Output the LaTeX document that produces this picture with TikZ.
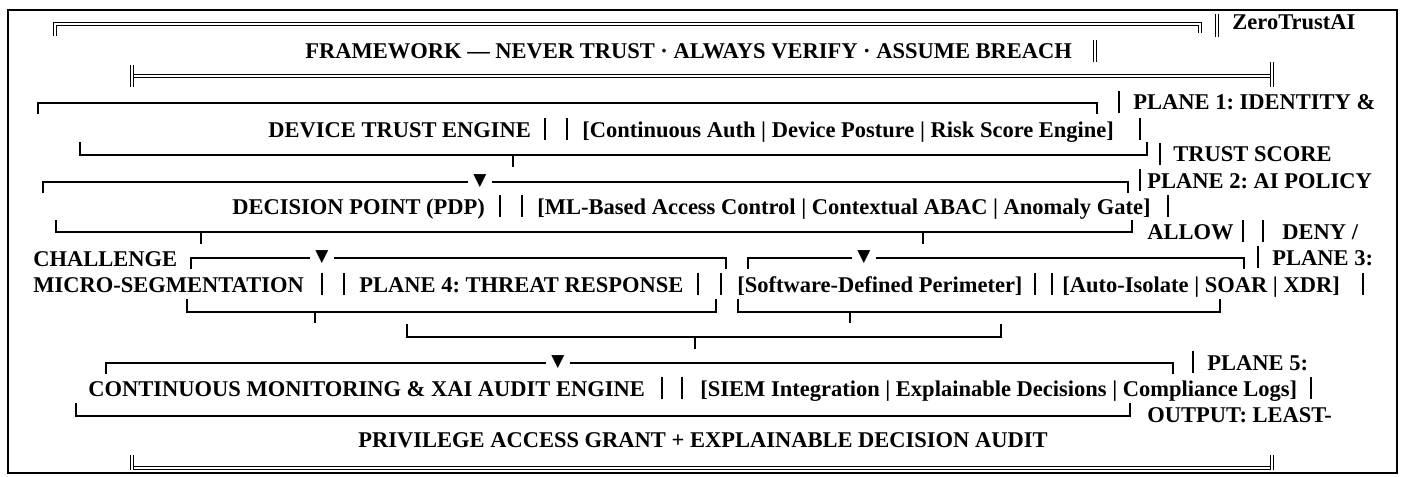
\documentclass[tikz,border=0pt]{standalone}
\usepackage{fontspec}
\setmainfont{Liberation Serif}
\newfontfamily\symfont{DejaVu Sans}
\frenchspacing

\begin{document}
\begin{tikzpicture}[
  x=0.5pt, y=-0.5pt,
  lbl/.style={font=\bfseries\fontsize{11.25}{13}\selectfont, inner sep=0pt, anchor=base west},
  rule/.style={line width=0.85pt},
  dbl/.style={line width=0.65pt, double, double distance=1pt},
  tip/.style={font=\symfont\fontsize{8.5}{8.5}\selectfont, fill=white, inner xsep=2.5pt, inner ysep=0pt}
]
\useasboundingbox (0,0) rectangle (1401,476);
\draw[line width=1.15pt] (8,10) rectangle (1397,473);

% title band
\draw[dbl] (55,36) -- (55,24) -- (1200,24) -- (1200,33);
\draw[dbl] (1217,14) -- (1217,37);
\node[lbl] (title) at (1232,30) {ZeroTrustAI};
\node[lbl] (motto) at (305,59) {FRAMEWORK — NEVER TRUST · ALWAYS VERIFY · ASSUME BREACH};
\draw[dbl] (1095,40) -- (1095,62);
\draw[dbl] (132,76) -- (1272,76);
\draw[dbl] (132,65) -- (132,87);
\draw[dbl] (1272,62) -- (1272,87);

% plane 1
\draw[rule] (38,114) -- (38,103) -- (1097,103) -- (1097,114);
\node[lbl] (p1) at (1133,110) {PLANE 1: IDENTITY \&};
\node[lbl] (idn) at (268,137) {DEVICE TRUST ENGINE};
\node[lbl] (idnparts) at (582,137) {[Continuous Auth | Device Posture | Risk Score Engine]};
\draw[rule] (80,142) -- (80,155) -- (1147,155) -- (1147,142);
\draw[rule] (513,155) -- (513,167);
\node[lbl] (score) at (1173,162) {TRUST SCORE};

% plane 2
\draw[rule] (43,193) -- (43,182) -- (1128,182) -- (1128,193);
\node[tip] (v1) at (480,181) {▼};
\node[lbl] (p2) at (1147,188) {PLANE 2: AI POLICY};
\node[lbl] (pdp) at (232,214) {DECISION POINT (PDP)};
\node[lbl] (pdpparts) at (537,214) {[ML-Based Access Control | Contextual ABAC | Anomaly Gate]};
\draw[rule] (56,220) -- (56,232) -- (1132,232) -- (1132,220);
\draw[rule] (201,232) -- (201,244);
\draw[rule] (923,232) -- (923,244);
\node[lbl] (allow) at (1147,239) {ALLOW};
\node[lbl] (deny) at (1282,239) {DENY /};

% planes 3 and 4
\node[lbl] (chal) at (33,266) {CHALLENGE};
\draw[rule] (191,269) -- (191,258) -- (726,258) -- (726,269);
\node[tip] (v2) at (322,257) {▼};
\draw[rule] (748,269) -- (748,258) -- (1244,258) -- (1244,269);
\node[tip] (v3) at (864,257) {▼};
\node[lbl] (p3) at (1272,265) {PLANE 3:};
\node[lbl] (micro) at (33,292) {MICRO-SEGMENTATION};
\node[lbl] (p4) at (359,292) {PLANE 4: THREAT RESPONSE};
\node[lbl] (sdp) at (737,292) {[Software-Defined Perimeter]};
\node[lbl] (soar) at (1062,292) {[Auto-Isolate | SOAR | XDR]};
\draw[rule] (187,299) -- (187,312) -- (716,312) -- (716,299);
\draw[rule] (315,312) -- (315,323);
\draw[rule] (738,299) -- (738,312) -- (1220,312) -- (1220,299);
\draw[rule] (850,312) -- (850,323);
\draw[rule] (407,324) -- (407,337) -- (1001,337) -- (1001,324);
\draw[rule] (695,337) -- (695,349);

% plane 5
\draw[rule] (106,374) -- (106,363) -- (1173,363) -- (1173,374);
\node[tip] (v4) at (558,362) {▼};
\node[lbl] (p5) at (1207,370) {PLANE 5:};
\node[lbl] (mon) at (88,396) {CONTINUOUS MONITORING \& XAI AUDIT ENGINE};
\node[lbl] (monparts) at (700,396) {[SIEM Integration | Explainable Decisions | Compliance Logs]};
\draw[rule] (76,403) -- (76,416) -- (1130,416) -- (1130,403);
\node[lbl] (out) at (1147,422) {OUTPUT: LEAST-};
\node[lbl] (grant) at (358,447) {PRIVILEGE ACCESS GRANT + EXPLAINABLE DECISION AUDIT};
\draw[dbl] (132,468) -- (1272,468);
\draw[dbl] (132,455) -- (132,470);
\draw[dbl] (1272,455) -- (1272,470);

% separator bars, grouped by baseline
\foreach \x/\b in {1119/110, 545/137, 567/137, 1140/137, 1160/162, 1140/188,
                   500/214, 522/214, 1168/214, 1243/239, 1263/239, 1258/265,
                   322/292, 344/292, 698/292, 721/292, 1035/292, 1052/292, 1363/292,
                   1193/370, 662/396, 682/396, 1311/396}
  \draw[rule] (\x,\b-19) -- (\x,\b+3);
\end{tikzpicture}
\end{document}
